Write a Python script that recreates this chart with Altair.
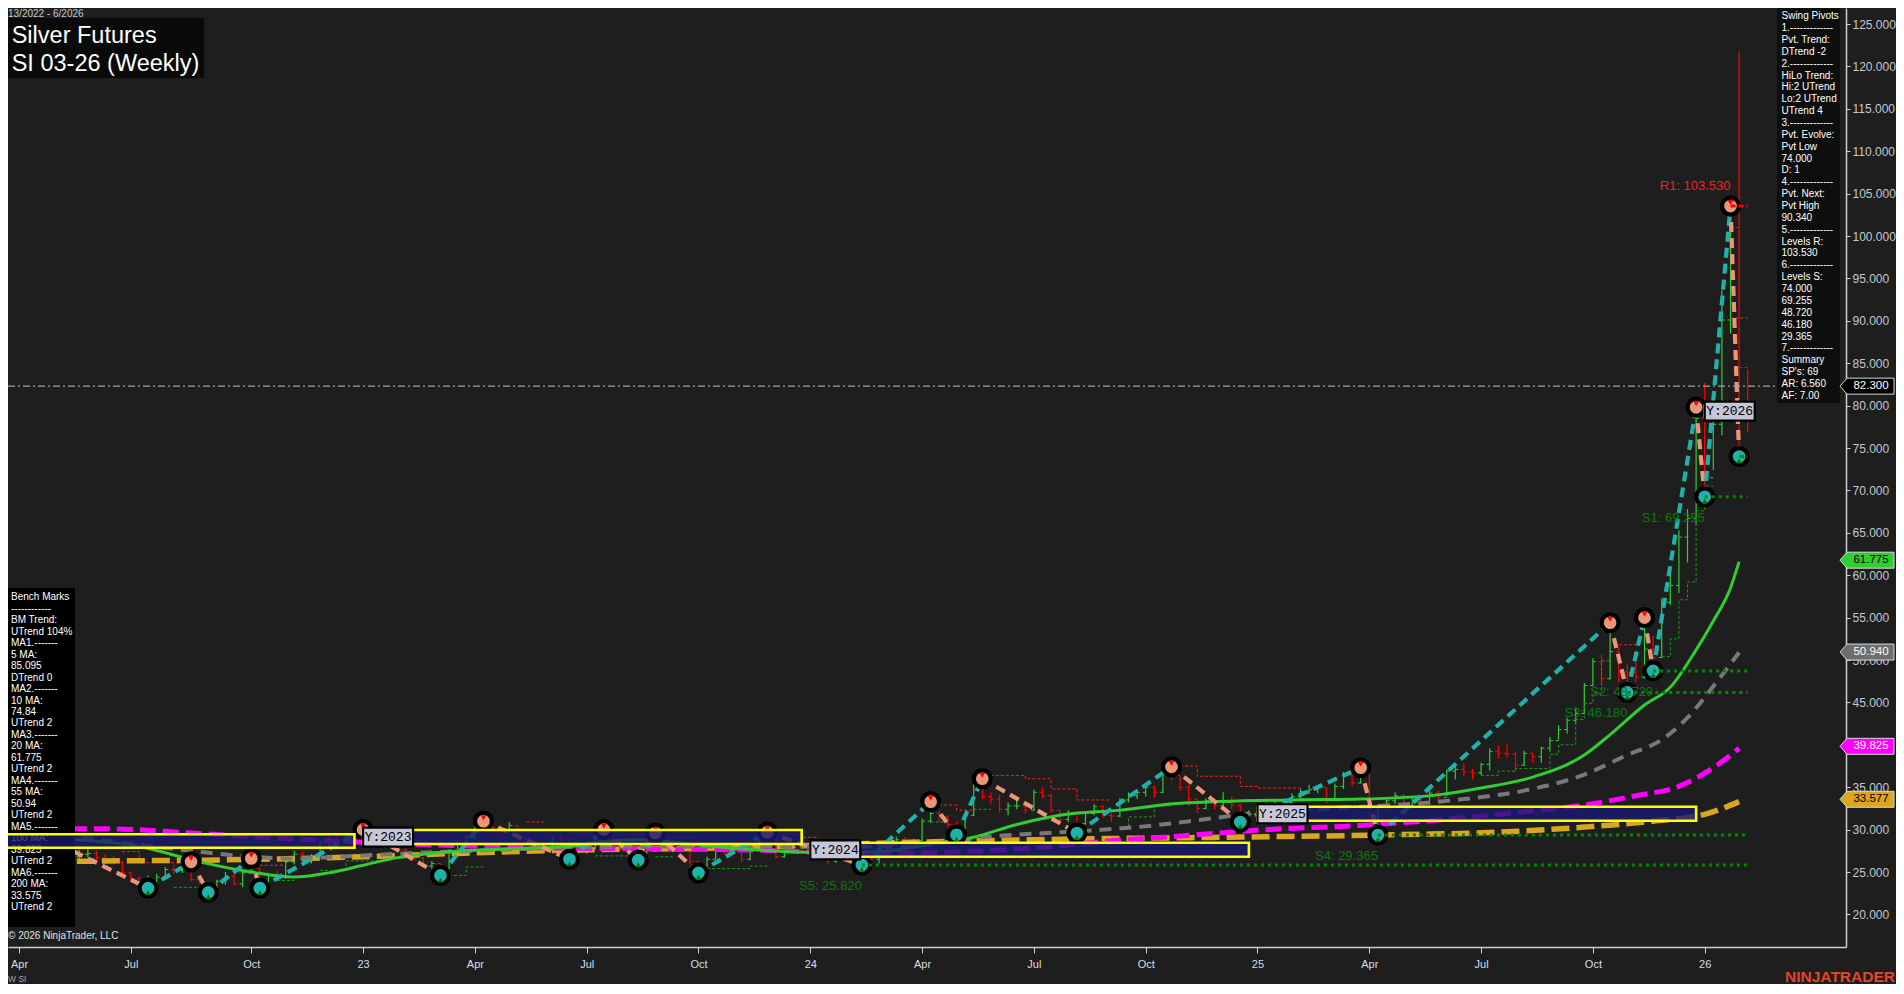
import altair as alt
import pandas as pd

# ------------------------------------------------------------------ data
FIRST_BAR = "2022-04-01"          # first weekly bar (week 13/2022)
OPEN_FIRST = 29.9

CLOSE = [29.7, 30.6, 29.3, 28.1, 27.5, 26.1, 26.8, 27.1, 27.2, 26.7,
         26.6, 26.1, 24.9, 24.2, 23.8, 23.9, 24.4, 25.3, 25.2, 25.8,
         24.1, 23.8, 22.8, 23.9, 24.5, 23.6, 24.9, 25.4, 23.5, 24.6,
         24.4, 26.2, 27.1, 26.3, 26.9, 28.6, 29.0, 28.6, 29.3, 29.5,
         29.3, 29.6, 29.2, 28.9, 27.6, 27.2, 26.7, 25.7, 26.0, 25.4,
         27.5, 28.3, 29.1, 30.2, 30.4, 30.2, 30.0, 30.5, 28.8, 28.6,
         27.8, 28.3, 29.0, 28.9, 26.9, 27.5, 27.8, 29.0, 29.5, 28.8,
         27.7, 27.3, 27.3, 28.5, 28.7, 27.6, 27.8, 28.0, 26.2, 25.8,
         26.5, 27.6, 27.5, 27.4, 26.5, 27.9, 28.6, 29.4, 26.8, 27.8,
         27.9, 27.5, 26.8, 26.9, 26.3, 26.6, 26.5, 26.3, 27.0, 26.5,
         26.7, 28.1, 28.8, 28.3, 28.7, 31.0, 31.9, 31.5, 30.6, 30.1,
         31.7, 35.2, 33.9, 33.6, 32.4, 32.8, 32.8, 32.3, 34.4, 34.0,
         32.3, 31.2, 31.8, 30.7, 31.9, 32.7, 31.7, 31.6, 33.5, 34.0,
         34.4, 35.0, 34.4, 36.5, 36.4, 35.0, 33.6, 32.5, 33.4, 32.8,
         33.2, 32.9, 31.6, 31.8, 32.0, 32.9, 32.9, 33.2, 33.9, 34.5,
         34.7, 35.0, 33.5, 35.1, 36.4, 35.5, 36.6, 31.6, 32.8, 33.4,
         34.0, 32.8, 33.5, 33.1, 34.3, 33.8, 36.9, 37.1, 36.8, 36.7,
         37.7, 39.2, 39.0, 38.9, 37.6, 39.0, 38.6, 39.6, 40.5, 41.8,
         42.9, 43.7, 47.0, 49.8, 47.8, 51.0, 48.6, 48.5, 48.0, 51.3,
         50.3, 56.8, 58.8, 64.5, 66.7, 78.5, 71.5, 77.8, 90.1, 101.0,
         84.5, 82.3]

HIGH = [30.4, 31.2, 30.8, 29.4, 28.4, 27.6, 27.0, 27.6, 27.9, 27.5,
        27.1, 26.9, 26.3, 25.1, 24.5, 24.6, 24.8, 25.6, 25.8, 26.0,
        26.2, 24.6, 23.9, 24.1, 25.0, 24.9, 25.2, 26.6, 25.5, 24.9,
        25.1, 26.4, 27.5, 27.4, 27.1, 28.9, 29.2, 29.6, 29.5, 29.9,
        30.0, 29.9, 29.9, 29.4, 29.1, 27.8, 27.4, 26.7, 26.3, 26.0,
        27.7, 28.8, 29.3, 30.4, 31.0, 30.6, 30.5, 30.9, 30.4, 29.1,
        28.7, 28.5, 29.2, 29.4, 28.9, 27.8, 28.3, 29.3, 30.0, 29.6,
        28.9, 28.1, 27.6, 28.8, 29.6, 28.8, 28.4, 28.3, 28.1, 26.3,
        26.8, 27.9, 28.0, 27.9, 27.5, 28.1, 28.9, 29.7, 29.5, 28.1,
        28.3, 28.0, 27.6, 27.3, 27.0, 26.9, 27.0, 26.7, 27.2, 27.1,
        26.9, 28.4, 29.2, 29.1, 28.9, 31.3, 33.3, 32.2, 31.7, 30.9,
        31.9, 35.5, 36.0, 34.4, 34.1, 33.2, 33.7, 33.1, 34.7, 35.0,
        34.2, 32.3, 32.3, 31.6, 32.1, 33.0, 32.9, 32.0, 33.7, 34.4,
        34.8, 35.5, 35.2, 36.8, 37.4, 36.3, 35.3, 33.6, 33.7, 33.6,
        34.4, 33.9, 33.0, 32.3, 32.4, 33.2, 33.5, 33.4, 34.3, 34.8,
        35.3, 35.2, 35.0, 35.4, 36.8, 36.6, 37.3, 36.9, 33.0, 33.8,
        34.4, 34.2, 33.9, 33.9, 34.6, 34.6, 37.1, 37.5, 37.8, 37.2,
        37.9, 39.6, 39.9, 40.0, 39.2, 39.3, 39.1, 39.8, 40.9, 42.3,
        43.2, 44.4, 47.3, 50.2, 50.6, 54.4, 51.5, 49.5, 49.8, 55.0,
        52.9, 57.3, 60.2, 65.3, 67.8, 79.8, 82.7, 78.7, 93.6, 103.53,
        121.8, 84.3]

LOW = [28.9, 29.5, 29.0, 27.8, 27.0, 25.8, 25.6, 26.4, 26.7, 26.3,
       26.1, 25.9, 24.6, 23.9, 23.4, 23.1, 23.5, 24.2, 24.8, 24.9,
       23.9, 23.6, 22.6, 22.8, 23.5, 23.4, 23.2, 24.8, 23.1, 23.3,
       24.1, 24.2, 25.9, 26.0, 26.0, 26.9, 28.0, 27.9, 28.4, 28.9,
       28.6, 28.9, 28.9, 28.5, 27.3, 26.9, 26.4, 25.5, 25.4, 24.6,
       25.3, 27.2, 28.0, 28.9, 29.9, 29.6, 29.4, 29.7, 28.6, 28.1,
       27.4, 27.3, 28.0, 28.5, 26.5, 26.8, 27.2, 27.7, 28.8, 28.5,
       27.5, 27.0, 26.4, 27.2, 28.3, 27.3, 27.4, 27.4, 25.9, 24.9,
       25.5, 26.5, 27.1, 27.0, 26.2, 26.4, 27.8, 28.4, 26.6, 26.7,
       27.4, 27.2, 26.6, 26.4, 26.0, 26.1, 26.2, 26.0, 25.82, 26.2,
       26.0, 26.7, 28.0, 28.0, 28.1, 28.7, 30.8, 30.9, 30.2, 29.4,
       30.0, 31.6, 33.6, 33.0, 32.0, 31.7, 32.4, 31.9, 32.2, 33.7,
       32.0, 30.8, 30.9, 29.6, 30.6, 31.7, 31.4, 30.9, 31.5, 33.2,
       33.6, 33.9, 33.8, 34.3, 35.8, 34.6, 32.8, 32.0, 32.4, 32.4,
       32.6, 32.4, 30.9, 31.3, 31.3, 31.9, 32.4, 32.5, 32.9, 33.6,
       34.2, 34.3, 33.1, 33.4, 34.8, 35.1, 35.4, 30.8, 29.365, 32.3,
       33.0, 32.5, 32.4, 32.6, 32.9, 33.3, 33.9, 35.9, 36.3, 35.9,
       36.4, 37.0, 38.4, 38.5, 36.9, 37.5, 37.9, 37.9, 39.2, 40.6,
       41.3, 42.5, 43.6, 46.9, 47.2, 47.7, 47.4, 46.18, 47.4, 47.8,
       48.72, 50.2, 56.5, 57.9, 61.5, 66.0, 69.255, 72.4, 76.5, 88.5,
       74.0, 76.9]

# swing pivots: bar index, price (alternating high / low)
PIVOT_IDX = [-2, 15, 20, 22, 27, 28, 40, 49, 54, 64, 68, 72, 74, 79, 87, 98,
             106, 109, 112, 123, 134, 142, 156, 158, 185, 187, 189, 190, 195, 196, 199, 200]
PIVOT_VAL = [31.6, 23.1, 26.2, 22.6, 26.6, 23.1, 30.0, 24.6, 31.0, 26.5, 30.0, 26.4,
             29.6, 24.9, 29.7, 25.82, 33.3, 29.4, 36.0, 29.6, 37.4, 30.9, 37.3, 29.365,
             54.4, 46.18, 55.0, 48.72, 79.8, 69.255, 103.53, 74.0]
PIVOT_KIND = ["H", "L"] * 16

# trailing swing stair-steps (runs of (bar index, level))
RED_RUNS = [
    [(12, 27.4), (14, 26.1), (19, 26.1)],
    [(28, 25.8), (31, 25.8)],
    [(59, 30.9), (61, 30.9)],
    [(64, 29.6), (67, 29.6)],
    [(71, 29.4), (73, 29.1), (79, 29.1)],
    [(88, 29.4), (91, 29.1), (93, 29.1)],
    [(107, 32.9), (109, 32.3), (111, 32.3)],
    [(113, 36.4), (117, 36.0), (120, 34.8), (123, 33.5), (127, 33.5)],
    [(135, 37.5), (137, 36.3), (142, 35.1), (144, 34.9), (149, 34.9)],
    [(186, 51.8), (188, 51.8)],
    [(189, 55.0), (190, 55.0)],
    [(199, 90.34), (201, 90.34)],
]
GREEN_RUNS = [
    [(18, 23.2), (21, 23.2)],
    [(30, 24.0), (32, 24.0)],
    [(35, 25.2), (38, 26.3), (42, 26.3)],
    [(50, 24.6), (52, 25.6), (54, 25.6)],
    [(67, 26.9), (71, 26.9)],
    [(74, 26.8), (76, 26.8)],
    [(80, 25.4), (85, 25.7), (87, 25.7)],
    [(106, 30.9), (108, 30.9)],
    [(111, 32.4), (113, 32.4)],
    [(128, 30.2), (129, 31.5), (132, 32.8), (134, 32.8)],
    [(154, 32.8), (156, 32.8)],
    [(170, 36.4), (172, 36.9), (174, 37.2), (178, 38.9), (179, 40.0), (181, 43.0),
     (182, 44.9), (183, 46.1), (184, 49.9), (185, 49.9)],
    [(191, 50.4), (192, 52.5), (193, 57.1), (194, 59.2), (195, 67.6), (196, 70.5), (197, 70.5)],
]

# moving averages (bar index, value)
MA20_IDX = [-2, 0, 7, 14, 21, 27, 32, 36, 40, 44, 50, 56, 64, 68, 72, 79, 86, 94, 100,
            106, 111, 116, 121, 128, 135, 148, 156, 165, 170, 176, 182, 185, 189, 192,
            195, 197, 199, 200]
MA20_VAL = [29.6, 29.3, 28.8, 28.0, 26.2, 25.0, 24.4, 24.9, 25.8, 26.7, 27.4, 27.7, 28.0,
            28.6, 28.8, 28.2, 27.6, 27.3, 27.4, 28.3, 29.1, 30.6, 31.7, 32.3, 33.1, 33.5,
            33.6, 34.1, 34.9, 36.2, 38.8, 41.2, 44.7, 46.8, 51.2, 54.6, 58.5, 61.6]
MA55_IDX = [-2, 0, 7, 14, 20, 27, 32, 37, 45, 55, 65, 75, 85, 95, 102, 113, 123, 130, 137,
            144, 152, 160, 168, 175, 182, 187, 191, 194, 197, 200]
MA55_VAL = [29.8, 29.6, 29.1, 28.2, 27.5, 26.8, 26.6, 26.8, 27.2, 27.6, 27.9, 28.0, 28.0,
            28.0, 28.0, 29.2, 29.8, 30.3, 31.1, 32.0, 32.5, 32.9, 33.6, 34.6, 36.5, 38.8,
            40.6, 43.2, 46.9, 50.9]
MA100_IDX = [-2, 0, 10, 20, 28, 36, 48, 65, 75, 85, 100, 110, 120, 126, 133, 145, 156,
             168, 175, 182, 188, 193, 197, 200]
MA100_VAL = [30.1, 30.1, 30.1, 29.6, 29.1, 28.7, 28.2, 27.8, 27.7, 27.6, 27.2, 27.4, 28.0,
             28.6, 29.1, 30.0, 30.5, 31.4, 32.1, 32.9, 34.0, 35.1, 37.3, 39.6]
MA200_IDX = [-2, 0, 10, 28, 40, 51, 65, 85, 100, 123, 140, 160, 172, 182, 190, 196, 200]
MA200_VAL = [26.2, 26.2, 26.3, 26.5, 26.8, 27.2, 27.6, 27.9, 28.4, 28.9, 29.1, 29.4, 29.7,
             30.3, 31.0, 31.8, 33.3]

SUP_NAME = ["S1", "S2", "S3", "S4", "S5"]
SUP_VAL = [69.255, 48.72, 46.18, 29.365, 25.82]
SUP_IDX = [196, 190, 187, 158, 98]
RES_NAME = ["R1"]
RES_VAL = [103.53]
RES_IDX = [199]
EVOLVE_VAL = 74.0
EVOLVE_IDX = 200
LEVEL_END_IDX = 201
LAST_PRICE = 82.3

BOX_YEAR = ["2022", "2023", "2024", "2025", "2026"]
BOX_START = ["2022-03-01", "2023-01-06", "2024-01-05", "2025-01-03", "2026-01-02"]
BOX_END = ["2022-12-30", "2023-12-29", "2024-12-27", "2025-12-26", "2026-01-30"]
BOX_TOP = [29.45, 29.95, 28.45, 32.7, 80.0]
BOX_BOT = [27.87, 28.3, 26.8, 31.05, 78.7]
BOX_LABELED = [False, True, True, True, True]

TAG_VAL = [82.3, 61.775, 50.94, 39.825, 33.577]
TAG_LABEL = ["82.300", "61.775", "50.940", "39.825", "33.577"]
TAG_FILL = ["#000000", "#32cd32", "#6e6e6e", "#ff00ff", "#daa520"]
TAG_TEXT = ["#ffffff", "#000000", "#ffffff", "#ffffff", "#000000"]

X_TICKS = ["2022-04-01", "2022-07-01", "2022-10-07", "2023-01-06", "2023-04-07", "2023-07-07",
           "2023-10-06", "2024-01-05", "2024-04-05", "2024-07-05", "2024-10-04", "2025-01-03",
           "2025-04-04", "2025-07-04", "2025-10-03", "2026-01-02"]
Y_TICKS = list(range(20, 126, 5))

SWING_LINES = ["Swing Pivots", "1.-------------", "Pvt. Trend:", "DTrend -2", "2.-------------",
               "HiLo Trend:", "Hi:2 UTrend", "Lo:2 UTrend", "UTrend 4", "3.-------------",
               "Pvt. Evolve:", "Pvt Low", "74.000", "D: 1", "4.-------------", "Pvt. Next:",
               "Pvt High", "90.340", "5.-------------", "Levels R:", "103.530", "6.-------------",
               "Levels S:", "74.000", "69.255", "48.720", "46.180", "29.365", "7.-------------",
               "Summary", "SP's: 69", "AR: 6.560", "AF: 7.00"]
BENCH_LINES = ["Bench Marks", "------------", "BM Trend:", "UTrend 104%", "MA1.-------", "5 MA:",
               "85.095", "DTrend 0", "MA2.-------", "10 MA:", "74.84", "UTrend 2", "MA3.-------",
               "20 MA:", "61.775", "UTrend 2", "MA4.-------", "55 MA:", "50.94", "UTrend 2",
               "MA5.-------", "100 MA:", "39.825", "UTrend 2", "MA6.-------", "200 MA:",
               "33.575", "UTrend 2"]

# ------------------------------------------------------------------ layout
W, H = 1838, 939
X_START, X_END = "2022-03-23", "2026-04-27"
Y_MIN, Y_MAX = 16.16, 126.89
FONT = "Liberation Sans, Arial, sans-serif"
BG = "#1e1e1e"
GREEN, RED = "#32cd32", "#ff0000"
TEAL, SALMON = "#20b2aa", "#e9967a"


def day(i):
    return (pd.Timestamp(FIRST_BAR) + pd.Timedelta(days=7 * i)).strftime("%Y-%m-%d")


def ms(s):
    return int(pd.Timestamp(s, tz="UTC").value // 10**6)


xscale = alt.Scale(type="utc", domain=[ms(X_START), ms(X_END)])
yscale = alt.Scale(domain=[Y_MIN, Y_MAX], nice=False, zero=False)

xaxis = alt.Axis(values=[ms(t) for t in X_TICKS],
                 labelExpr="utcmonth(datum.value) == 0 ? utcFormat(datum.value, '%y') : utcFormat(datum.value, '%b')",
                 grid=False, domainColor="#cfcfcf", domainWidth=1.5, tickColor="#cfcfcf",
                 tickSize=6, labelColor="#d8dce6", labelFont=FONT, labelFontSize=11,
                 labelPadding=5, labelFlush=False, labelOverlap=False, title=None)
yaxis = alt.Axis(orient="right", values=Y_TICKS, format=".3f", grid=False,
                 domainColor="#cfcfcf", domainWidth=1.5, tickColor="#cfcfcf", tickSize=4,
                 labelColor="#c4c8d0", labelFont=FONT, labelFontSize=12, labelPadding=2,
                 labelFlush=False, labelOverlap=False, title=None)


def X(field="d"):
    return alt.X(f"{field}:T", scale=xscale, axis=xaxis, title=None)


def Y(field="v"):
    return alt.Y(f"{field}:Q", scale=yscale, axis=yaxis, title=None)


# ---- bars
opens = [OPEN_FIRST] + CLOSE[:-1]
bars = pd.DataFrame({
    "d": [day(i) for i in range(len(CLOSE))],
    "lo": LOW, "hi": HIGH, "c": CLOSE, "o": opens,
})
bars["col"] = [GREEN if c >= o else RED for c, o in zip(CLOSE, opens)]

bar_rule = alt.Chart(bars).mark_rule(strokeWidth=1.2).encode(
    x=X("d"), y=Y("lo"), y2="hi:Q", color=alt.Color("col:N", scale=None))
close_tick = alt.Chart(bars).mark_point(shape="M0,0L1,0", size=36, filled=False, strokeWidth=1,
                                        opacity=1).encode(
    x=X(), y=Y("c"), stroke=alt.Stroke("col:N", scale=None))
open_tick = alt.Chart(bars).mark_point(shape="M-1,0L0,0", size=36, filled=False, strokeWidth=1,
                                       opacity=1).encode(
    x=X(), y=Y("o"), stroke=alt.Stroke("col:N", scale=None))


# ---- trailing stair lines
def runs_layer(runs, color):
    rows = []
    for r, run in enumerate(runs):
        for o, (i, v) in enumerate(run):
            rows.append({"run": r, "o": o, "d": day(i), "v": v})
    df = pd.DataFrame(rows)
    return alt.Chart(df).mark_line(color=color, strokeWidth=1, strokeDash=[3, 2],
                                   interpolate="step-after", clip=True).encode(
        x=X(), y=Y(), detail="run:N", order="o:Q")


red_trail = runs_layer(RED_RUNS, "#ff2020")
green_trail = runs_layer(GREEN_RUNS, "#1a9a1a")


# ---- moving averages
def ma_layer(idx, vals, color, width, dash=None):
    df = pd.DataFrame({"d": [day(i) for i in idx], "v": vals})
    kw = dict(color=color, strokeWidth=width, clip=True, interpolate="monotone")
    if dash:
        kw["strokeDash"] = dash
    return alt.Chart(df).mark_line(**kw).encode(x=X(), y=Y())


ma200 = ma_layer(MA200_IDX, MA200_VAL, "#daa520", 5.5, [18, 7])
ma100 = ma_layer(MA100_IDX, MA100_VAL, "#ff00ff", 5, [16, 7])
ma55 = ma_layer(MA55_IDX, MA55_VAL, "#787878", 4, [12, 8])
ma20 = ma_layer(MA20_IDX, MA20_VAL, GREEN, 3)

# ---- zig-zag
legs = []
for k in range(len(PIVOT_IDX) - 1):
    col = TEAL if PIVOT_KIND[k] == "L" else SALMON
    for j in (k, k + 1):
        legs.append({"leg": k, "d": day(PIVOT_IDX[j]), "v": PIVOT_VAL[j], "col": col})
legs = pd.DataFrame(legs)
zigzag = alt.Chart(legs).mark_line(strokeWidth=4.2, strokeDash=[10, 6], clip=True).encode(
    x=X(), y=Y(), detail="leg:N", color=alt.Color("col:N", scale=None))

piv = pd.DataFrame({"d": [day(i) for i in PIVOT_IDX], "v": PIVOT_VAL, "k": PIVOT_KIND})
piv["col"] = [SALMON if k == "H" else TEAL for k in PIVOT_KIND]
markers = alt.Chart(piv).mark_point(shape="circle", filled=True, size=285, stroke="#000000",
                                    strokeWidth=4.2, opacity=1, clip=True).encode(
    x=X(), y=Y(), fill=alt.Fill("col:N", scale=None))
tri_hi = alt.Chart(piv[piv.k == "H"]).mark_point(shape="triangle-down", filled=True, size=34,
                                                 color=RED, opacity=1, yOffset=-3.5, clip=True).encode(
    x=X(), y=Y())
tri_lo = alt.Chart(piv[piv.k == "L"]).mark_point(shape="triangle-up", filled=True, size=34,
                                                 color="#008000", opacity=1, yOffset=4.5, clip=True).encode(
    x=X(), y=Y())

# ---- support / resistance levels
sup = pd.DataFrame({"d": [day(i) for i in SUP_IDX], "d2": day(LEVEL_END_IDX), "v": SUP_VAL,
                    "t": [f"{n}: {v:.3f}" for n, v in zip(SUP_NAME, SUP_VAL)]})
sup_lines = alt.Chart(sup).mark_rule(strokeWidth=3, strokeDash=[3, 4], color="#008a00").encode(
    x=X(), x2="d2:T", y=Y())
evolve = pd.DataFrame({"d": [day(EVOLVE_IDX)], "d2": [day(LEVEL_END_IDX)], "v": [EVOLVE_VAL]})
evolve_line = alt.Chart(evolve).mark_rule(strokeWidth=3, strokeDash=[5, 3], color="#008a00").encode(
    x=X(), x2="d2:T", y=Y())
res = pd.DataFrame({"d": [day(i) for i in RES_IDX], "d2": day(LEVEL_END_IDX), "v": RES_VAL,
                    "t": [f"{n}: {v:.3f}" for n, v in zip(RES_NAME, RES_VAL)]})
res_line = alt.Chart(res).mark_rule(strokeWidth=3, strokeDash=[5, 3], color=RED).encode(
    x=X(), x2="d2:T", y=Y())
sup_text = alt.Chart(sup).mark_text(align="right", baseline="middle", dy=21, fontSize=13,
                                    font=FONT, color="#0a780a").encode(x=X(), y=Y(), text="t:N")
res_text = alt.Chart(res).mark_text(align="right", baseline="middle", dy=-20, fontSize=13,
                                    font=FONT, color="#ff1a1a").encode(x=X(), y=Y(), text="t:N")

# ---- last price line
last = pd.DataFrame({"v": [LAST_PRICE]})
last_line = alt.Chart(last).mark_rule(strokeWidth=1.3, strokeDash=[7, 3, 2, 3],
                                      color="#a0a0a0").encode(
    y=Y(), x=alt.value(0), x2=alt.value(W))

# ---- year boxes
boxes = pd.DataFrame({"d": BOX_START, "d2": BOX_END, "v": BOX_TOP, "v2": BOX_BOT,
                      "t": ["Y:" + y for y in BOX_YEAR], "lab": BOX_LABELED})
boxes["mid"] = (boxes.v + boxes.v2) / 2
box_rect = alt.Chart(boxes).mark_rect(fill="#191970", fillOpacity=0.8, stroke="#ffff00",
                                      strokeWidth=2.6, clip=True).encode(
    x=X(), x2="d2:T", y=Y(), y2="v2:Q")
labeled = boxes[boxes.lab]
box_lab_bg = alt.Chart(labeled).mark_point(shape="M-1,-0.38L1,-0.38L1,0.38L-1,0.38Z", size=2500,
                                           filled=True, fill="#c6c6d8", stroke="#000000",
                                           strokeWidth=2.2, opacity=1, xOffset=25).encode(
    x=X(), y=Y("mid"))
box_lab_tx = alt.Chart(labeled).mark_text(font="Liberation Mono, Courier New, monospace",
                                          fontSize=13, color="#000000", xOffset=25,
                                          align="center", baseline="middle").encode(
    x=X(), y=Y("mid"), text="t:N")

# ---- right price tags
tags = pd.DataFrame({"v": TAG_VAL, "t": TAG_LABEL, "f": TAG_FILL, "tc": TAG_TEXT})
tag_shape = alt.Chart(tags).mark_point(shape="M-1,0L-0.74,-0.296L1,-0.296L1,0.296L-0.74,0.296Z",
                                       size=2916, filled=True, opacity=1, stroke="#d8d8d8",
                                       strokeWidth=1).encode(
    x=alt.value(W + 21), y=Y(), fill=alt.Fill("f:N", scale=None))
tag_text = alt.Chart(tags).mark_text(fontSize=11.5, font=FONT, align="center",
                                     baseline="middle").encode(
    x=alt.value(W + 25), y=Y(), text="t:N", color=alt.Color("tc:N", scale=None))

# ---- panels and captions
one = pd.DataFrame({"a": [0]})


def panel(x0, x1, y0, y1, color):
    return alt.Chart(one).mark_rect(color=color).encode(
        x=alt.value(x0), x2=alt.value(x1), y=alt.value(y0), y2=alt.value(y1))


def block(lines, x, y, lh, size=10, color="#ffffff", weight="normal"):
    df = pd.DataFrame({"t": ["\n".join(lines)]})
    return alt.Chart(df).mark_text(align="left", baseline="top", lineBreak="\n", lineHeight=lh,
                                   fontSize=size, font=FONT, color=color, fontWeight=weight).encode(
        x=alt.value(x), y=alt.value(y), text="t:N")


def label(txt, x, y, size, color, align="left", baseline="alphabetic", weight="normal"):
    df = pd.DataFrame({"t": [txt]})
    return alt.Chart(df).mark_text(align=align, baseline=baseline, fontSize=size, font=FONT,
                                   color=color, fontWeight=weight).encode(
        x=alt.value(x), y=alt.value(y), text="t:N")


bench_bg = panel(0, 67, 580, 919, "#000000")
bench_tx = block(BENCH_LINES, 3, 584.2, 11.48)
swing_bg = panel(1769, 1832, 0, 395, "#0e0e0e")
swing_tx = block(SWING_LINES, 1773.5, 3.3, 11.86)
title_bg = panel(0, 196, 10, 70, "#0a0a0a")
title1 = label("Silver Futures", 3.7, 35.3, 23.5, "#ffffff")
title2 = label("SI 03-26 (Weekly)", 3.7, 62.7, 23.5, "#ffffff")
range_tx = label("13/2022 - 6/2026", 0, 1, 10, "#c8c8c8", baseline="top")
copy_tx = label("\u00a9 2026 NinjaTrader, LLC", 0, 927.5, 10, "#e4e4e4", baseline="middle")
wsi_tx = label("W SI", 0, 974, 8.5, "#a8a8a8")
ninja_tx = label("NINJATRADER", 1887, 974, 15.5, "#e8432b", align="right", weight="bold")

chart = alt.layer(
    bar_rule, open_tick, close_tick,
    red_trail, green_trail,
    ma200, ma100, ma55, ma20,
    zigzag, markers, tri_hi, tri_lo,
    sup_lines, evolve_line, res_line,
    last_line,
    bench_bg, bench_tx,
    box_rect, box_lab_bg, box_lab_tx,
    sup_text, res_text,
    swing_bg, swing_tx,
    title_bg, title1, title2, range_tx,
    tag_shape, tag_text,
    copy_tx, wsi_tx, ninja_tx,
).properties(
    width=W, height=H, background=BG,
    padding={"left": 0, "top": 0, "right": 50, "bottom": 37},
    autosize=alt.AutoSizeParams(type="none"),
).configure_view(strokeWidth=0)

chart.save("out.html", embed_options={"renderer": "svg", "actions": False})
